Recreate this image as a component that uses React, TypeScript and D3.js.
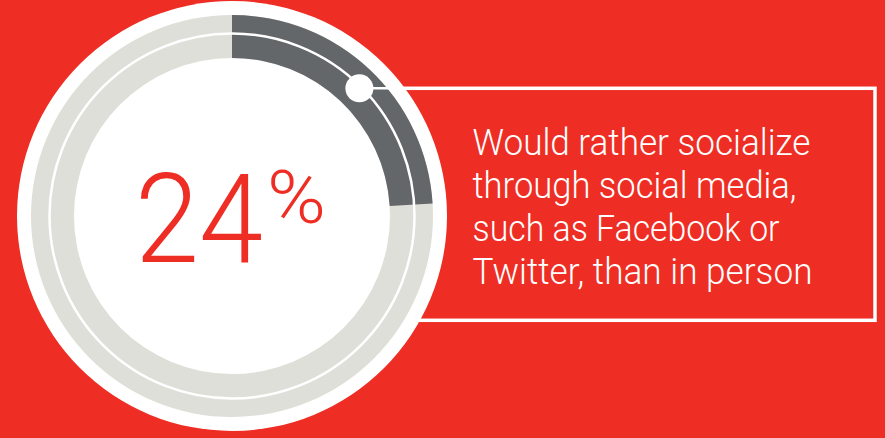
import { useEffect, useRef } from "react";
import * as d3 from "d3";

const share = [24];
const shareLabel = ["24", "%"];
const captionLines = [
  "Would rather socialize",
  "through social media,",
  "such as Facebook or",
  "Twitter, than in person",
];
const captionWidths = [338, 324, 307, 340];

const W = 885;
const H = 438;
const RED = "#ee2e24";
const LIGHT = "#dfdfd9";
const DARK = "#63676a";

// draw a text squeezed to a given width with a horizontal scale
function fitText(
  parent: d3.Selection<SVGSVGElement | null, unknown, null, undefined>,
  label: string,
  x: number,
  y: number,
  size: number,
  width: number
) {
  const t = parent
    .append("text")
    .attr("font-family", "Roboto, sans-serif")
    .attr("font-weight", 300)
    .attr("font-size", size)
    .attr("fill", RED)
    .text(label);
  const natural = (t.node() as SVGTextElement).getComputedTextLength() || width;
  t.attr("transform", `translate(${x},${y}) scale(${width / natural},1)`);
  return t;
}

export default function App() {
  const ref = useRef<SVGSVGElement>(null);

  useEffect(() => {
    const svg = d3.select(ref.current);
    svg.selectAll("*").remove();

    const cx = 232;
    const cy = 216;
    const angle = d3.scaleLinear().domain([0, 100]).range([0, 2 * Math.PI]);

    svg.append("rect").attr("width", W).attr("height", H).attr("fill", RED);

    // caption box (left side hidden behind the disc)
    const boxTop = 88.3;
    const boxBottom = 320.3;
    const boxRight = 875;
    svg
      .append("rect")
      .attr("x", 380)
      .attr("y", boxTop)
      .attr("width", boxRight - 380)
      .attr("height", boxBottom - boxTop)
      .attr("fill", "none")
      .attr("stroke", "#fff")
      .attr("stroke-width", 3.5);

    const g = svg.append("g").attr("transform", `translate(${cx},${cy})`);

    g.append("circle").attr("r", 215).attr("fill", "#fff");

    const arc = d3.arc<{ s: number; e: number }>()
      .innerRadius(158)
      .outerRadius(201)
      .startAngle((d) => d.s)
      .endAngle((d) => d.e);

    g.append("path")
      .attr("d", arc({ s: 0, e: 2 * Math.PI }))
      .attr("fill", LIGHT);

    g.selectAll("path.value")
      .data(share)
      .join("path")
      .attr("class", "value")
      .attr("d", (v) => arc({ s: 0, e: angle(v) }))
      .attr("fill", DARK);

    const lineR = 182.5;
    g.append("circle")
      .attr("r", lineR)
      .attr("fill", "none")
      .attr("stroke", "#fff")
      .attr("stroke-width", 2.5);

    // knob where the box top meets the inner ring line
    const dy = boxTop - cy;
    const kx = Math.sqrt(lineR * lineR - dy * dy) - 3;
    g.append("line")
      .attr("x1", kx)
      .attr("x2", 240)
      .attr("y1", dy)
      .attr("y2", dy)
      .attr("stroke", "#fff")
      .attr("stroke-width", 2.5);
    g.append("circle").attr("cx", kx).attr("cy", dy).attr("r", 14).attr("fill", "#fff");

    // big number with raised percent sign
    fitText(svg, shareLabel[0], 135, 261.7, 125, 128);
    fitText(svg, shareLabel[1], 267, 223, 74, 59);

    svg
      .append("g")
      .selectAll("text")
      .data(captionLines)
      .join("text")
      .attr("x", 472.5)
      .attr("y", (_, i) => 155 + i * 43)
      .attr("font-family", "Roboto, sans-serif")
      .attr("font-weight", 300)
      .attr("font-size", 37.5)
      .attr("fill", "#fff")
      .attr("textLength", (_, i) => captionWidths[i])
      .attr("lengthAdjust", "spacingAndGlyphs")
      .text((d) => d);
  }, []);

  return (
    <svg
      ref={ref}
      width={W}
      height={H}
      style={{ position: "absolute", left: 0, top: 0, display: "block" }}
    />
  );
}
